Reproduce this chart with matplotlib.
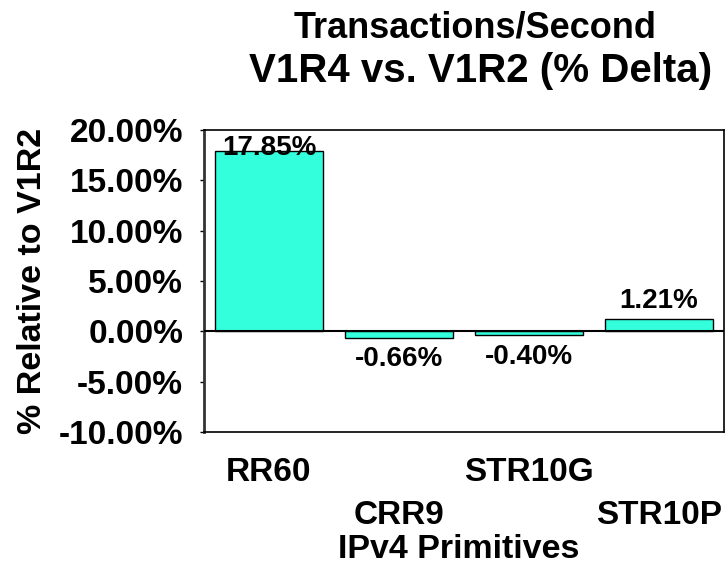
import matplotlib
matplotlib.use("Agg")
import matplotlib.pyplot as plt
import matplotlib.ticker

plt.rcParams["font.family"] = ["Liberation Sans", "DejaVu Sans"]
plt.rcParams["font.weight"] = "bold"
plt.rcParams["axes.labelweight"] = "bold"

# data
categories = ["RR60", "CRR9", "STR10G", "STR10P"]
delta_pct = [17.85, -0.66, -0.40, 1.21]
y_ticks = [-10, -5, 0, 5, 10, 15, 20]

bar_color = "#33FFDD"

fig = plt.figure(figsize=(7.26, 5.74), dpi=100)
ax = fig.add_axes([0.281, 0.247, 0.716, 0.527])

x = list(range(len(categories)))
ax.bar(x, delta_pct, width=0.83, color=bar_color, edgecolor="black",
       linewidth=1.0, zorder=2)
ax.axhline(0, color="black", linewidth=1.5, zorder=3)

ax.set_xlim(-0.5, len(categories) - 0.5)
ax.set_ylim(-10, 20)
ax.set_yticks(y_ticks)
ax.yaxis.set_major_formatter(
    matplotlib.ticker.FuncFormatter(lambda v, p: f"{v:.2f}%")
)
ax.tick_params(axis="y", labelsize=24, length=3, width=1, pad=12)

# staggered category labels
ax.set_xticks(x)
ax.set_xticklabels([c if i % 2 == 0 else "\n" + c for i, c in enumerate(categories)])
ax.tick_params(axis="x", labelsize=24, length=0, pad=18)
for t in ax.get_xticklabels():
    t.set_linespacing(1.5)

for s in ax.spines.values():
    s.set_linewidth(1.2)
    s.set_color("black")
ax.spines["left"].set_linewidth(2.0)
ax.spines["left"].set_color("#333333")

# value labels
for i, v in enumerate(delta_pct):
    label = f"{v:.2f}%"
    if v >= 0:
        if v > 16:
            ax.annotate(label, (i, 20), xytext=(0, -4), textcoords="offset points",
                        ha="center", va="top", fontsize=20, zorder=4)
        else:
            ax.annotate(label, (i, v), xytext=(0, 4), textcoords="offset points",
                        ha="center", va="bottom", fontsize=20, zorder=4)
    else:
        ax.annotate(label, (i, v), xytext=(0, -6), textcoords="offset points",
                    ha="center", va="top", fontsize=20, zorder=4)

ax.set_xlabel("IPv4 Primitives", fontsize=24.5)
ax.xaxis.set_label_coords(0.49, -0.335)
ax.xaxis.label.set_va("top")
ax.set_ylabel("% Relative to V1R2", fontsize=24.5)
ax.yaxis.set_label_coords(-0.30, 0.5)

fig.text(0.655, 0.952, "Transactions/Second", ha="center", va="center", fontsize=26)
fig.text(0.662, 0.876, "V1R4 vs. V1R2 (% Delta)", ha="center", va="center", fontsize=29)

plt.savefig("out.png", dpi=100)
plt.close()
